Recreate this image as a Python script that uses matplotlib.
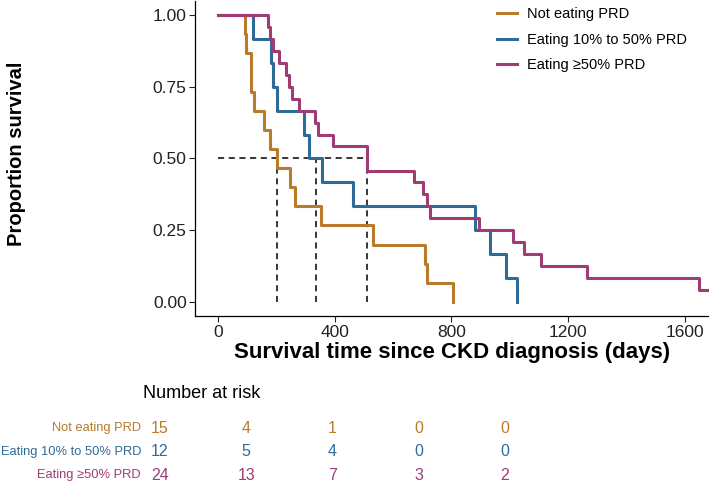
import matplotlib
matplotlib.use("Agg")
import matplotlib.pyplot as plt

# Kaplan-Meier curves (time in days, survival proportion)
groups = ["Not eating PRD", "Eating 10% to 50% PRD", "Eating \u226550% PRD"]
colors = ["#B97A29", "#2E6B98", "#A03B74"]

t_none = [0, 92, 95, 112, 123, 158, 178, 201, 247, 264, 352, 533, 710, 716, 807]
s_none = [1, .933, .867, .733, .667, .6, .533, .467, .4, .333, .267, .2, .133, .067, 0]

t_mid = [0, 119, 181, 187, 203, 295, 313, 358, 464, 881, 933, 988, 1024]
s_mid = [1, .917, .833, .75, .667, .583, .5, .417, .333, .25, .167, .083, 0]

t_high = [0, 170, 178, 187, 210, 233, 245, 253, 278, 333, 342, 393, 512, 673, 704,
          716, 727, 895, 1013, 1049, 1107, 1264, 1651, 1680]
s_high = [1, .958, .917, .875, .833, .792, .75, .708, .667, .625, .583, .542, .458,
          .417, .375, .333, .292, .25, .208, .167, .125, .083, .042, .042]

medians = [201, 336, 512]

risk_times = [0, 400, 800, 1200, 1600]
risk_none = [15, 4, 1, 0, 0]
risk_mid = [12, 5, 4, 0, 0]
risk_high = [24, 13, 7, 3, 2]

x_ticks = [0, 400, 800, 1200, 1600]
y_ticks = [0, 0.25, 0.5, 0.75, 1.0]

plt.rcParams["font.family"] = ["Liberation Sans", "DejaVu Sans"]

W, H = 709, 484
fig = plt.figure(figsize=(W / 100, H / 100), dpi=100)

# main survival panel
ax = fig.add_axes([195 / W, 1 - 316.35 / H, (W - 195) / W, (316.35 - 0.65) / H])
curves = [(t_none, s_none), (t_mid, s_mid), (t_high, s_high)]
for (t, s), lab, c in zip(curves, groups, colors):
    ax.step(t, s, where="post", color=c, lw=2.2, label=lab, zorder=3)

# median survival guides
ax.plot([0, max(medians)], [0.5, 0.5], ls=(0, (4, 3)), color="black", lw=1.1, zorder=2)
for m in medians:
    ax.plot([m, m], [0, 0.5], ls=(0, (4, 3)), color="black", lw=1.1, zorder=2)

ax.set_xlim(-79, 1684)
ax.set_ylim(-0.05, 1.05)
ax.set_xticks(x_ticks)
ax.set_yticks(y_ticks)
ax.set_yticklabels([f"{v:.2f}" for v in y_ticks])
ax.tick_params(labelsize=12.5, colors="#222222", length=4, width=0.8, pad=2)
for side in ["top", "right"]:
    ax.spines[side].set_visible(False)
for side in ["left", "bottom"]:
    ax.spines[side].set_linewidth(0.9)

ax.set_ylabel("Proportion survival", fontsize=14.5, fontweight="bold")
ax.yaxis.set_label_coords(-0.329, 0.515)
ax.set_xlabel("Survival time since CKD diagnosis (days)", fontsize=16, fontweight="bold")
ax.xaxis.set_label_coords(0.5, -0.082)

ax.legend(loc="upper left", bbox_to_anchor=(0.562, 1.02), frameon=False, fontsize=10.5,
          handlelength=1.37, handletextpad=0.68, labelspacing=0.78)

# number at risk table
ax_t = fig.add_axes([150 / W, 1 - 487.25 / H, 365 / W, 70.5 / H])
ax_t.set_xlim(-46.4, 1646.4)
ax_t.set_ylim(-0.5, 2.5)
ax_t.axis("off")
rows = [risk_none, risk_mid, risk_high]
for i, (r, lab, c) in enumerate(zip(rows, groups, colors)):
    y = 2 - i
    ax_t.text(-88, y, lab, color=c, ha="right", va="center", fontsize=9.3, clip_on=False)
    for tt, n in zip(risk_times, r):
        ax_t.text(tt, y, str(n), color=c, ha="center", va="center", fontsize=11.5,
                  clip_on=False)
ax_t.text(-79, 3.51, "Number at risk", ha="left", va="center", fontsize=13, clip_on=False)

fig.savefig("out.png", dpi=100)
